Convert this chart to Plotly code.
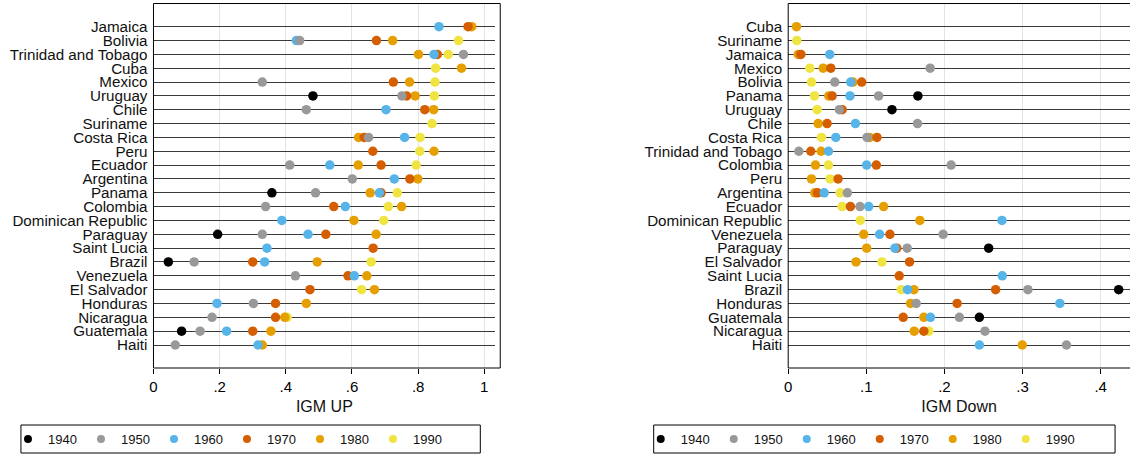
import plotly.graph_objects as go

W, H = 1130, 458

years = ["1940", "1950", "1960", "1970", "1980", "1990"]
colors = ["#000000", "#999999", "#56B4E9", "#D55E00", "#E69F00", "#F0E442"]

up_countries = ["Jamaica", "Bolivia", "Trinidad and Tobago", "Cuba", "Mexico", "Uruguay", "Chile",
                "Suriname", "Costa Rica", "Peru", "Ecuador", "Argentina", "Panama", "Colombia",
                "Dominican Republic", "Paraguay", "Saint Lucia", "Brazil", "Venezuela", "El Salvador",
                "Honduras", "Nicaragua", "Guatemala", "Haiti"]

up_1940 = [None, None, None, None, None, .482, None, None, None, None, None, None, .358, None, None, .194, None, .045, None, None, None, None, .085, None]
up_1950 = [None, .442, .937, None, .329, .751, .462, None, .650, None, .412, .601, .490, .339, None, .329, None, .123, .429, None, .302, .177, .141, .066]
up_1960 = [.863, .432, .848, None, None, None, .703, None, .759, None, .533, .728, .683, .580, .388, .467, .343, .336, .607, None, .192, None, .221, .316]
up_1970 = [.951, .674, .858, None, .725, .765, .820, None, .637, .663, .688, .775, .688, .545, None, .521, .664, .300, .588, .473, .369, .369, .300, None]
up_1980 = [.962, .723, .801, .931, .774, .791, .847, None, .620, .848, .619, .799, .655, .750, .606, .673, None, .495, .645, .668, .462, .397, .355, .329]
up_1990 = [None, .922, .891, .853, .851, .849, None, .842, .806, .805, .794, None, .737, .710, .696, None, None, .658, None, .629, None, .404, None, None]

down_countries = ["Cuba", "Suriname", "Jamaica", "Mexico", "Bolivia", "Panama", "Uruguay", "Chile",
                  "Costa Rica", "Trinidad and Tobago", "Colombia", "Peru", "Argentina", "Ecuador",
                  "Dominican Republic", "Venezuela", "Paraguay", "El Salvador", "Saint Lucia", "Brazil",
                  "Honduras", "Guatemala", "Nicaragua", "Haiti"]

down_1940 = [None, None, None, None, None, .166, .1328, None, None, None, None, None, None, None, None, None, .2566, None, None, .423, None, .2447, None, None]
down_1950 = [None, None, None, .1817, .0596, .1157, .0655, .1655, .1009, .0136, .2085, None, .0757, .0919, None, .1983, .1523, None, None, .3068, .1638, .2191, .2519, .3562]
down_1960 = [None, None, .0532, None, .080, .0791, None, .086, .0609, .0515, .1004, None, .046, .103, .2736, .117, .1366, None, .274, .1528, .3477, .1821, None, .2447]
down_1970 = [None, None, .0162, .0545, .094, .0562, .069, .0498, .1136, .0289, .1128, .0638, .0374, .0796, None, .1302, .139, .1553, .1421, .2655, .2162, .1472, .1736, None]
down_1980 = [.0106, None, .0128, .0447, .083, .0519, None, .0383, .1043, .0421, .0349, .0298, .034, .1221, .1685, .0966, .1004, .0868, None, .1609, .1566, .1736, .1613, .2996]
down_1990 = [None, .011, None, .0277, .0298, .0336, .037, None, .0426, None, .0515, .0536, .0664, .0689, .0923, None, None, .12, None, .1447, None, None, .18, None]

up_ticks = [0, 0.2, 0.4, 0.6, 0.8, 1.0]
up_ticktext = ["0", ".2", ".4", ".6", ".8", "1"]
down_ticks = [0, 0.1, 0.2, 0.3, 0.4]
down_ticktext = ["0", ".1", ".2", ".3", ".4"]

up_series = [up_1940, up_1950, up_1960, up_1970, up_1980, up_1990]
down_series = [down_1940, down_1950, down_1960, down_1970, down_1980, down_1990]

FONT = "Liberation Sans, Arial, sans-serif"

def px_x(p):
    return p / W

def px_y(p):
    return 1 - p / H

n = len(up_countries)
ypos = [n - i for i in range(n)]

fig = go.Figure()

# data traces, drawn latest decade first so earlier decades sit on top
for k in reversed(range(len(years))):
    fig.add_trace(go.Scatter(x=up_series[k], y=ypos, mode="markers",
                             marker=dict(color=colors[k], size=9.5, line=dict(width=0)),
                             xaxis="x", yaxis="y", showlegend=False, hoverinfo="skip"))
    fig.add_trace(go.Scatter(x=down_series[k], y=ypos, mode="markers",
                             marker=dict(color=colors[k], size=9.5, line=dict(width=0)),
                             xaxis="x2", yaxis="y2", showlegend=False, hoverinfo="skip"))

# legend entries
for k in range(len(years)):
    for lg, xa, ya in (("legend", "x", "y"), ("legend2", "x2", "y2")):
        fig.add_trace(go.Scatter(x=[None], y=[None], mode="markers", name=years[k],
                                 marker=dict(color=colors[k], size=8),
                                 xaxis=xa, yaxis=ya, legend=lg, showlegend=True))

ydom = [px_y(368), px_y(3.5)]
row_px = (345 - 26.7) / (n - 1)
yr = [1 - (368 - 345) / row_px, n + (26.7 - 3.5) / row_px]

ax_common = dict(showline=False, zeroline=False, tickfont=dict(family=FONT, size=15, color="#000"))
yax_common = dict(showline=False, zeroline=False, showgrid=True, gridcolor="#3a3a3a", gridwidth=1,
                  tickmode="array", ticks="", ticklabelstandoff=5,
                  tickfont=dict(family=FONT, size=15.2, color="#111"), range=yr, domain=ydom)

up_scale = 332.0
down_scale = 784.0

fig.update_layout(
    width=W, height=H,
    margin=dict(l=0, r=0, t=0, b=0),
    paper_bgcolor="white", plot_bgcolor="white",
    showlegend=True,
    xaxis=dict(domain=[px_x(150), px_x(493)], range=[0, (493 - 150) / up_scale],
               tickmode="array", tickvals=up_ticks, ticktext=up_ticktext,
               ticks="outside", ticklen=5, tickcolor="#000", tickwidth=1,
               showgrid=True, gridcolor="#e3e3e3", gridwidth=1, anchor="y",
               title=dict(text="IGM UP", font=dict(family=FONT, size=16, color="#111"), standoff=6),
               **ax_common),
    yaxis=dict(anchor="x", tickvals=ypos, ticktext=up_countries, **yax_common),
    xaxis2=dict(domain=[px_x(787), 1.0], range=[0, (W - 787) / down_scale],
                tickmode="array", tickvals=down_ticks, ticktext=down_ticktext,
                ticks="outside", ticklen=5, tickcolor="#000", tickwidth=1,
                showgrid=True, gridcolor="#e3e3e3", gridwidth=1, anchor="y2",
                title=dict(text="IGM Down", font=dict(family=FONT, size=16, color="#111"), standoff=6),
                **ax_common),
    yaxis2=dict(anchor="x2", tickvals=ypos, ticktext=down_countries, **yax_common),
    legend=dict(orientation="h", x=px_x(4), y=px_y(439), xanchor="left", yanchor="middle",
                bgcolor="rgba(0,0,0,0)", borderwidth=0, entrywidth=28, entrywidthmode="pixels",
                font=dict(family=FONT, size=13, color="#111"), traceorder="normal"),
    legend2=dict(orientation="h", x=px_x(639), y=px_y(439), xanchor="left", yanchor="middle",
                 bgcolor="rgba(0,0,0,0)", borderwidth=0, entrywidth=28, entrywidthmode="pixels",
                 font=dict(family=FONT, size=13, color="#111"), traceorder="normal"),
    shapes=[
        dict(type="rect", xref="paper", yref="paper", x0=px_x(150), x1=px_x(498),
             y0=px_y(368), y1=px_y(3.5), line=dict(color="#000", width=1), layer="above"),
        dict(type="rect", xref="paper", yref="paper", x0=px_x(787), x1=px_x(1140),
             y0=px_y(368), y1=px_y(3.5), line=dict(color="#000", width=1), layer="above"),
        dict(type="rect", xref="paper", yref="paper", x0=px_x(17), x1=px_x(478),
             y0=px_y(453), y1=px_y(425), line=dict(color="#000", width=1), layer="above"),
        dict(type="rect", xref="paper", yref="paper", x0=px_x(652), x1=px_x(1115),
             y0=px_y(453), y1=px_y(425), line=dict(color="#000", width=1), layer="above"),
    ],
)

fig.write_html("out.html", config={"displayModeBar": False},
               post_script="document.body.style.margin='0';document.body.style.overflow='hidden';")
